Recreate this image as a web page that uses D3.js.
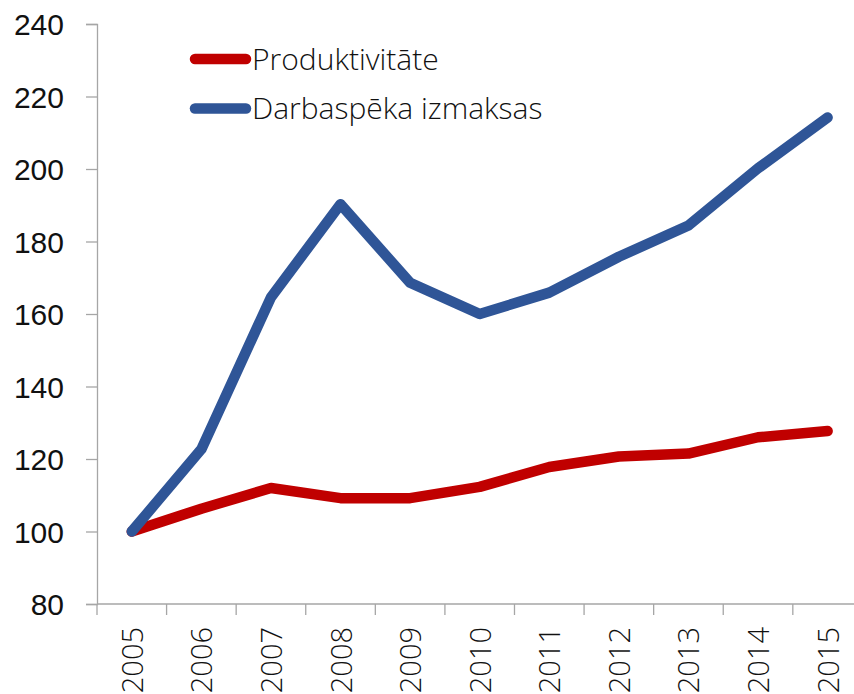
<!DOCTYPE html>
<html>
<head>
<meta charset="utf-8">
<script src="https://cdn.jsdelivr.net/npm/d3@7"></script>
<style>
  body { margin: 0; background: #fff; }
  svg { display: block; font-family: "Open Sans", "Noto Sans", sans-serif; font-weight: 300; }
</style>
</head>
<body>
<svg id="chart"></svg>
<script>
var width = 854;
var height = 694;

// data
var years = ["2005", "2006", "2007", "2008", "2009", "2010", "2011", "2012", "2013", "2014", "2015"];
var produktivitate = [100, 106.3, 112, 109.2, 109.2, 112.3, 117.8, 120.7, 121.5, 126, 127.7];
var darbaspeka = [100, 122.7, 164.6, 190.3, 168.6, 160, 165.9, 175.8, 184.4, 200.2, 214.2];
var yTicks = [80, 100, 120, 140, 160, 180, 200, 220, 240];

var series = [
    { name: "Produktivitāte", values: produktivitate, color: "#C00000" },
    { name: "Darbaspēka izmaksas", values: darbaspeka, color: "#2F5597" }
];

var axisColor = "#A6A6A6";
var textColor = "#111";

const svg = d3.select('#chart')
    .attr('width', width)
    .attr('height', height);

const x = d3.scaleBand()
    .domain(years)
    .range([97, 862.4])
    .padding(0);

const y = d3.scaleLinear()
    .domain([80, 240])
    .range([604, 24]);

// y axis
const yAxis = svg.append('g')
    .attr('transform', 'translate(97,0)')
    .call(d3.axisLeft(y).tickValues(yTicks).tickSize(11).tickPadding(22));
yAxis.select('.domain').attr('stroke', axisColor).attr('stroke-width', 1.3);
yAxis.selectAll('.tick line').attr('stroke', axisColor).attr('stroke-width', 1.3);
yAxis.selectAll('.tick text')
    .attr('fill', textColor)
    .attr('font-size', 30)
    .attr('font-family', null)
    .attr('dy', '0.36em');

// x axis: ticks on band edges, labels rotated
const xAxis = svg.append('g')
    .attr('transform', 'translate(0,604)');
xAxis.append('line')
    .attr('x1', x.range()[0]).attr('x2', x.range()[1])
    .attr('stroke', axisColor).attr('stroke-width', 1.3);
xAxis.selectAll('line.tick')
    .data(years)
    .enter().append('line')
    .attr('class', 'tick')
    .attr('x1', d => x(d)).attr('x2', d => x(d))
    .attr('y1', 0).attr('y2', 11)
    .attr('stroke', axisColor).attr('stroke-width', 1.3);
xAxis.selectAll('text')
    .data(years)
    .enter().append('text')
    .attr('transform', d => `translate(${x(d) + x.bandwidth() / 2 + 11}, 23) rotate(-90)`)
    .attr('text-anchor', 'end')
    .attr('fill', textColor)
    .attr('font-size', 29)
    .text(d => d);

// lines
const line = d3.line()
    .x((d, i) => x(years[i]) + x.bandwidth() / 2)
    .y(d => y(d));

svg.selectAll('path.series')
    .data(series)
    .enter().append('path')
    .attr('class', 'series')
    .attr('d', d => line(d.values))
    .attr('fill', 'none')
    .attr('stroke', d => d.color)
    .attr('stroke-width', 10.5)
    .attr('stroke-linecap', 'round')
    .attr('stroke-linejoin', 'round');

// legend
const legend = svg.selectAll('g.legend')
    .data(series)
    .enter().append('g')
    .attr('class', 'legend')
    .attr('transform', (d, i) => `translate(195, ${59 + i * 49.5})`);
legend.append('line')
    .attr('x1', 0).attr('x2', 51)
    .attr('stroke', d => d.color)
    .attr('stroke-width', 10.5)
    .attr('stroke-linecap', 'round');
legend.append('text')
    .attr('x', 57)
    .attr('dy', '0.36em')
    .attr('fill', textColor)
    .attr('font-size', 30)
    .text(d => d.name);
</script>
</body>
</html>
